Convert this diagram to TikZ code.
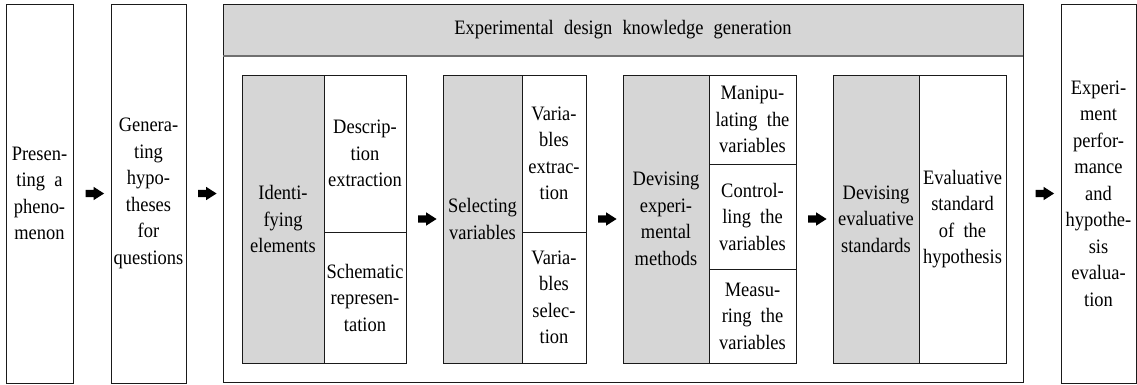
\documentclass[tikz,border=0pt]{standalone}
\usepackage{fontspec}
\setmainfont{Liberation Serif}[FakeStretch=0.9]
\usetikzlibrary{shapes.arrows,calc}
\newcommand\fsz{\fontsize{20.5}{26.5}\selectfont}
\newcommand\wsp{\hspace{0.45em}}
\definecolor{cellgray}{HTML}{D6D6D6}
\definecolor{sepgray}{HTML}{707070}
\definecolor{edge}{HTML}{1A1A1A}
\tikzset{
  cell/.style={draw=edge, line width=0.9pt, anchor=north west, outer sep=0pt, inner sep=0pt, align=center, font=\fsz},
  graycell/.style={cell, fill=cellgray},
  blockarrow/.style={single arrow, fill=black, draw=none, inner sep=3.4pt, minimum height=18.5pt,
    single arrow head extend=3pt, single arrow tip angle=65, anchor=center, outer sep=0pt}
}
\begin{document}
\begin{tikzpicture}[x=1pt,y=-1pt]
\useasboundingbox (0,0) rectangle (1137,384);
% left boxes
\node[cell, minimum width=67pt, minimum height=379pt] (pres) at (6,4) {Presen-\\ting\wsp a\\pheno-\\menon};
\node[cell, minimum width=75pt, minimum height=379pt] (gen) at (111,4) {Genera-\\ting\\hypo-\\theses\\for\\questions};
% big box
\node[cell, draw=none, fill=cellgray, minimum width=800pt, minimum height=52pt] (header) at (223,4)
  {Experimental\hspace{0.5em}design\hspace{0.5em}knowledge\hspace{0.5em}generation};
\node[cell, minimum width=800pt, minimum height=378pt] (outer) at (223,4) {};
\draw[sepgray, line width=1.6pt] (header.south west) -- (header.south east);
% group 1
\node[graycell, minimum width=82pt, minimum height=288pt] (iden) at (242,75) {Identi-\\fying\\elements};
\node[cell, minimum width=82pt, minimum height=157pt] (desc) at (324,75) {Descrip-\\tion\\extraction};
\node[cell, minimum width=82pt, minimum height=131pt] (schem) at (324,232) {Schematic\\represen-\\tation};
% group 2
\node[graycell, minimum width=79pt, minimum height=288pt] (sel) at (443,75) {Selecting\\variables};
\node[cell, minimum width=64pt, minimum height=157pt] (vext) at (522,75) {Varia-\\bles\\extrac-\\tion};
\node[cell, minimum width=64pt, minimum height=131pt] (vsel) at (522,232) {Varia-\\bles\\selec-\\tion};
% group 3
\node[graycell, minimum width=86pt, minimum height=288pt] (dev) at (623,75) {Devising\\experi-\\mental\\methods};
\node[cell, minimum width=87pt, minimum height=89pt] (manip) at (709,75) {Manipu-\\lating\wsp the\\variables};
\node[cell, minimum width=87pt, minimum height=105pt] (ctrl) at (709,164) {Control-\\ling\wsp the\\variables};
\node[cell, minimum width=87pt, minimum height=94pt] (meas) at (709,269) {Measu-\\ring\wsp the\\variables};
% group 4
\node[graycell, minimum width=86pt, minimum height=288pt] (deve) at (833,75) {Devising\\evaluative\\standards};
\node[cell, minimum width=87pt, minimum height=288pt] (evst) at (919,75) {Evaluative\\standard\\of\wsp the\\hypothesis};
% final box
\node[cell, minimum width=75pt, minimum height=379pt] (final) at (1061,4) {Experi-\\ment\\perfor-\\mance\\and\\hypothe-\\sis\\evalua-\\tion};
% arrows
\node[blockarrow] (a1) at ($(pres.east)!0.5!(gen.west)$) {};
\node[blockarrow] (a2) at ($(gen.east)!0.5!(outer.west |- gen.east)$) {};
\node[blockarrow] (a3) at ($(desc.east |- iden.east)!0.5!(sel.west)$) {};
\node[blockarrow] (a4) at ($(vext.east |- sel.east)!0.5!(dev.west)$) {};
\node[blockarrow] (a5) at ($(manip.east |- dev.east)!0.5!(deve.west)$) {};
\node[blockarrow] (a6) at ($(outer.east |- final.west)!0.5!(final.west)$) {};
\end{tikzpicture}
\end{document}
